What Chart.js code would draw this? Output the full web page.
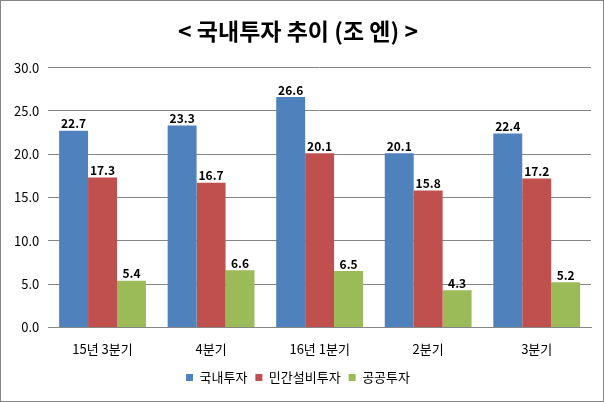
<!DOCTYPE html>
<html>
<head>
<meta charset="utf-8">
<script src="https://cdn.jsdelivr.net/npm/chart.js@4"></script>
<style>
  html, body { margin: 0; padding: 0; background: #fff; }
  .wrap { width: 604px; height: 402px; box-sizing: border-box; border: 1px solid #868686; position: relative; }
  canvas { display: block; }
</style>
</head>
<body>
<div class="wrap"><canvas id="chart" width="602" height="400"></canvas></div>
<script>
// 데이터
const categories = ["15년 3분기", "4분기", "16년 1분기", "2분기", "3분기"];
const domestic = [22.7, 23.3, 26.6, 20.1, 22.4];    // 국내투자
const privateInv = [17.3, 16.7, 20.1, 15.8, 17.2];  // 민간설비투자
const publicInv = [5.4, 6.6, 6.5, 4.3, 5.2];        // 공공투자

const FONT = "'Noto Sans CJK KR', 'Noto Sans', sans-serif";

// 막대 위에 값 표시
const valueLabels = {
    id: 'valueLabels',
    afterDatasetsDraw(chart) {
        const ctx = chart.ctx;
        ctx.save();
        ctx.font = "bold 12px " + FONT;
        ctx.fillStyle = '#000';
        ctx.textAlign = 'center';
        ctx.textBaseline = 'bottom';
        chart.data.datasets.forEach((ds, i) => {
            chart.getDatasetMeta(i).data.forEach((bar, j) => {
                ctx.fillText(ds.data[j].toFixed(1), bar.x, bar.y - 1);
            });
        });
        ctx.restore();
    }
};

const ctx = document.getElementById("chart").getContext("2d");
const chart = new Chart(ctx, {
    type: "bar",
    data: {
        labels: categories,
        datasets: [
            { label: "국내투자", data: domestic, backgroundColor: '#4F81BD' },
            { label: "민간설비투자", data: privateInv, backgroundColor: '#C0504D' },
            { label: "공공투자", data: publicInv, backgroundColor: '#9BBB59' }
        ]
    },
    options: {
        responsive: false,
        animation: false,
        datasets: { bar: { barPercentage: 1.0, categoryPercentage: 0.8 } },
        layout: { padding: { left: 4, right: 12, top: 6, bottom: 7 } },
        plugins: {
            title: {
                display: true,
                text: "< 국내투자 추이 (조 엔) >",
                color: '#000',
                font: { family: FONT, size: 23, weight: 'bold' },
                padding: { top: 10, bottom: 23 }
            },
            legend: {
                position: 'bottom',
                labels: {
                    color: '#000',
                    font: { family: FONT, size: 13 },
                    boxWidth: 7, boxHeight: 7,
                    padding: 8
                }
            },
            tooltip: { enabled: false }
        },
        scales: {
            x: {
                grid: { display: false },
                border: { color: '#868686' },
                ticks: { color: '#000', font: { family: FONT, size: 13 }, padding: 6 }
            },
            y: {
                min: 0, max: 30,
                ticks: {
                    stepSize: 5,
                    color: '#000',
                    font: { family: FONT, size: 13 },
                    padding: 9,
                    callback: v => v.toFixed(1)
                },
                grid: { color: '#868686', drawTicks: false },
                border: { display: false }
            }
        }
    },
    plugins: [valueLabels]
});
</script>
</body>
</html>
